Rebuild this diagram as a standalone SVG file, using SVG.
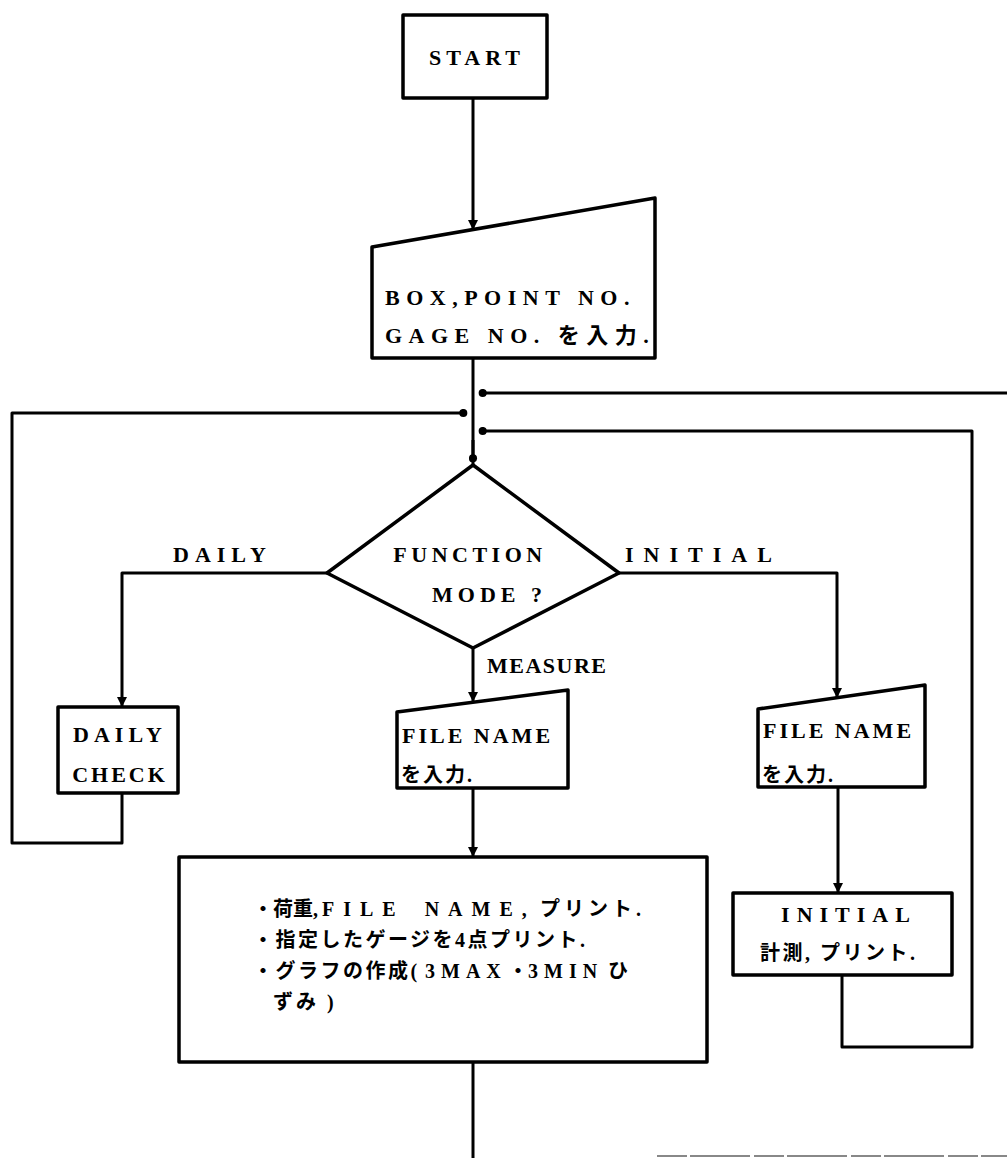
<svg xmlns="http://www.w3.org/2000/svg" width="1007" height="1158" viewBox="0 0 1007 1158">
<style>
.box{fill:#fff;stroke:#000;stroke-width:3.5;stroke-linejoin:round}
.ln{fill:none;stroke:#000;stroke-width:3;stroke-linejoin:round}
.t{font-family:'Liberation Serif','Noto Sans CJK JP',serif;font-weight:bold;font-size:22px;fill:#000}
.j{font-family:'Liberation Serif','Noto Sans CJK JP',serif;font-weight:bold;font-size:20px;fill:#000}
</style>
<defs>
<marker id="ah" viewBox="0 0 10 10" refX="9" refY="5" markerWidth="10" markerHeight="10" markerUnits="userSpaceOnUse" orient="auto">
<path d="M0,0 L10,5 L0,10 z" fill="#000"/>
</marker>
<marker id="dt" viewBox="0 0 10 10" refX="8" refY="5" markerWidth="9" markerHeight="9" markerUnits="userSpaceOnUse" orient="auto">
<circle cx="5" cy="5" r="4.5" fill="#000"/>
</marker>
</defs>
<g id="connectors">
<line class="ln" x1="473" y1="98" x2="473" y2="229" marker-end="url(#ah)"/>
<line class="ln" x1="473" y1="358" x2="473" y2="465"/>
<line class="ln" x1="473" y1="440" x2="473" y2="461" marker-end="url(#dt)"/>
<polyline class="ln" points="1007,393 480,393" marker-end="url(#dt)"/>
<polyline class="ln" points="122,793 122,843 12,843 12,413 466,413" marker-end="url(#dt)"/>
<polyline class="ln" points="842,975 842,1047 972,1047 972,431 480,431" marker-end="url(#dt)"/>
<polyline class="ln" points="327,573 122,573 122,706" marker-end="url(#ah)"/>
<polyline class="ln" points="619,573 837,573 837,697" marker-end="url(#ah)"/>
<line class="ln" x1="473" y1="648" x2="473" y2="701" marker-end="url(#ah)"/>
<line class="ln" x1="473" y1="788" x2="473" y2="856" marker-end="url(#ah)"/>
<line class="ln" x1="838" y1="787" x2="838" y2="892" marker-end="url(#ah)"/>
<line class="ln" x1="473" y1="1062" x2="473" y2="1158"/>
<line x1="657" y1="1156" x2="1007" y2="1156" stroke="#888" stroke-width="2" stroke-dasharray="30,3,60,4"/>
<text class="t" x="173" y="562" letter-spacing="6">DAILY</text>
<text class="t" x="625" y="562" letter-spacing="10">INITIAL</text>
<text class="t" x="487" y="673" letter-spacing="1.5">MEASURE</text>
</g>
<g id="start">
<rect class="box" x="403" y="15" width="144" height="83"/>
<text class="t" x="477" y="65" text-anchor="middle" letter-spacing="5">START</text>
</g>
<g id="input">
<polygon class="box" points="372,247 655,198 655,358 372,358"/>
<text class="t" x="385" y="305" font-size="24" letter-spacing="6.5">BOX,POINT NO.</text>
<text class="t" x="385" y="343" font-size="24" letter-spacing="6.5">GAGE NO. を入力.</text>
</g>
<g id="mode">
<polygon class="box" points="473,465 619,573 473,648 327,573"/>
<text class="t" x="470" y="562" text-anchor="middle" letter-spacing="4.5">FUNCTION</text>
<text class="t" x="432" y="602" letter-spacing="5">MODE ?</text>
</g>
<g id="daily-check">
<rect class="box" x="58" y="707" width="120" height="86"/>
<text class="t" x="120" y="742" text-anchor="middle" letter-spacing="5">DAILY</text>
<text class="t" x="120" y="782" text-anchor="middle" letter-spacing="3">CHECK</text>
</g>
<g id="file-measure">
<polygon class="box" points="397,712 568,690 568,788 397,788"/>
<text class="t" x="402" y="743" font-size="24" letter-spacing="3">FILE NAME</text>
<text class="j" x="401" y="782" font-size="22" letter-spacing="2">を入力.</text>
</g>
<g id="file-initial">
<polygon class="box" points="758,709 925,685 925,787 758,787"/>
<text class="t" x="763" y="738" font-size="24" letter-spacing="3">FILE NAME</text>
<text class="j" x="762" y="782" font-size="22" letter-spacing="2">を入力.</text>
</g>
<g id="measure-box">
<rect class="box" x="179" y="857" width="528" height="205"/>
<text class="j" x="253" y="916"><tspan>・荷重, </tspan><tspan x="322" letter-spacing="9" word-spacing="6">FILE NAME,</tspan><tspan x="540" letter-spacing="4">プリント.</tspan></text>
<text class="j" x="253" y="947" letter-spacing="2.5">・指定したゲージを4点プリント.</text>
<text class="j" x="253" y="978"><tspan letter-spacing="2.5">・グラフの作成( </tspan><tspan x="425" letter-spacing="6">3MAX</tspan><tspan x="508">・</tspan><tspan x="528" letter-spacing="6">3MIN</tspan><tspan x="608">ひ</tspan></text>
<text class="j" x="273" y="1009" letter-spacing="3">ずみ )</text>
</g>
<g id="initial-box">
<rect class="box" x="733" y="893" width="219" height="82"/>
<text class="t" x="849" y="922" text-anchor="middle" letter-spacing="7">INITIAL</text>
<text class="j" x="760" y="960" letter-spacing="2.5">計測, プリント.</text>
</g>
</svg>
